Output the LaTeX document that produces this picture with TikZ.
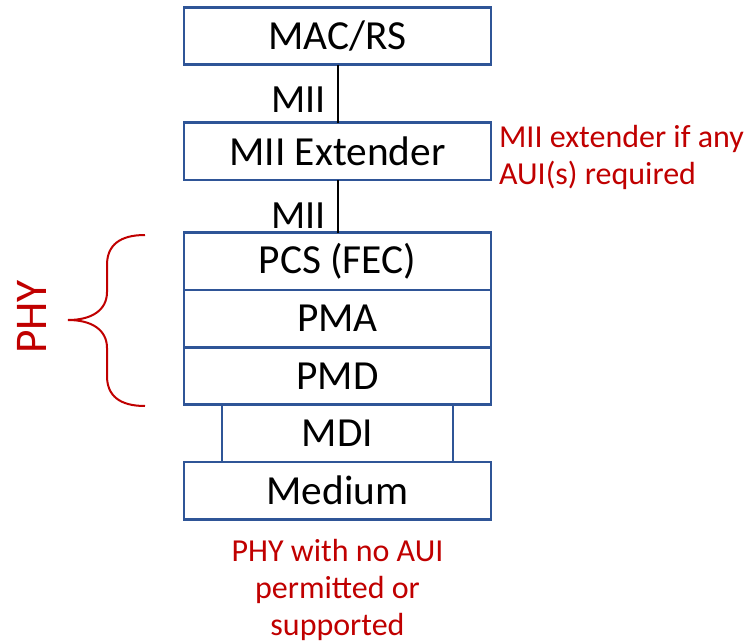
\documentclass[tikz,border=0pt]{standalone}
\usepackage{fontspec}
\setmainfont{Carlito}
\usetikzlibrary{positioning}
\definecolor{layerblue}{HTML}{2F5597}
\definecolor{notered}{HTML}{C00000}
\tikzset{
  layer/.style={draw=layerblue, line width=1.8pt, outer sep=0pt, inner sep=0pt, minimum width=230pt, minimum height=43pt, font=\fontsize{31}{37}\selectfont},
  note/.style={text=notered, inner sep=0pt, font=\fontsize{24}{27.5}\selectfont},
  iface/.style={inner sep=0pt, font=\fontsize{30}{36}\selectfont},
}

\begin{document}
\begin{tikzpicture}[x=0.75pt, y=-0.75pt]
    \useasboundingbox (0,0) rectangle (751,643);
    % layer stack
    \node[layer] (mac) at (337.5,36) {MAC/RS};
    \node[layer, below=43.5pt of mac] (ext) {MII Extender};
    \node[layer, below=39.5pt of ext] (pcs) {PCS (FEC)};
    \node[layer, below=0pt of pcs] (pma) {PMA};
    \node[layer, below=0pt of pma] (pmd) {PMD};
    \node[layer, below=0pt of pmd, minimum width=173pt] (mdi) {MDI};
    \node[layer, below=0pt of mdi] (med) {Medium};
    % interfaces
    \draw[line width=1.5pt] (mac) -- node[iface, pos=0.82, anchor=base east, xshift=-8pt] (mii1) {MII} (ext);
    \draw[line width=1.5pt] (ext) -- node[iface, pos=0.92, anchor=base east, xshift=-8pt] (mii2) {MII} (pcs);
    % notes
    \node[note, align=left, right=6pt of ext, yshift=-4.5pt] (extnote) {MII extender if any\\AUI(s) required};
    \node[note, align=center, below=15pt of med] (phynote) {PHY with no AUI\\permitted or\\supported};
    % PHY brace
    \node[note, font=\fontsize{34}{40}\selectfont, rotate=90] (phy) at (32,317) {PHY};
    \draw[notered, line width=1.5pt] (145,235) .. controls (120,235) and (107,245) .. (107,265) -- (107,292)
      .. controls (107,310) and (92,320) .. (68,320)
      .. controls (92,320) and (107,330) .. (107,348) -- (107,376)
      .. controls (107,396) and (120,406) .. (145,406);
\end{tikzpicture}
\end{document}
